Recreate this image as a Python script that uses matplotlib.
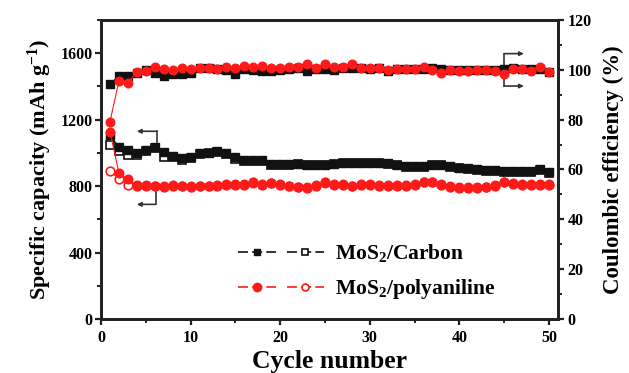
import matplotlib
matplotlib.use("Agg")
import matplotlib.pyplot as plt
from matplotlib.lines import Line2D
from matplotlib.legend_handler import HandlerTuple
from matplotlib.ticker import MultipleLocator

plt.rcParams['font.family'] = ['Liberation Serif', 'DejaVu Serif']
plt.rcParams['font.weight'] = 'bold'
plt.rcParams['mathtext.fontset'] = 'custom'
plt.rcParams['mathtext.rm'] = 'Liberation Serif:bold'
plt.rcParams['mathtext.default'] = 'rm'

cycles = list(range(1, 51))

carbon_discharge = [1107, 1036, 1017, 997, 1017, 1036, 1006, 982, 970, 976,
                    1000, 1000, 1012, 1000, 978, 956, 956, 955, 932, 932,
                    932, 936, 930, 930, 930, 936, 942, 942, 942, 942,
                    942, 940, 930, 922, 922, 922, 930, 930, 922, 910,
                    906, 900, 896, 896, 890, 890, 890, 890, 900, 882]
carbon_charge = [1047, 1012, 986, 990, 1010, 1030, 978, 975, 960, 970,
                 995, 998, 1008, 996, 964, 952, 952, 950, 930, 930,
                 930, 932, 928, 928, 928, 932, 938, 938, 938, 938,
                 938, 936, 928, 918, 918, 918, 926, 926, 918, 906,
                 902, 896, 892, 892, 886, 886, 886, 886, 896, 878]
carbon_ce = [94.3, 97.6, 97.6, 98.8, 99.9, 98.8, 97.5, 98.3, 98.3, 98.8,
             100.6, 100.6, 100.2, 99.9, 98.3, 100.4, 99.9, 99.5, 99.5, 99.9,
             100.2, 100.6, 99.5, 100.2, 100.3, 99.9, 100.6, 100.6, 100.6, 100.2,
             100.6, 99.4, 100.2, 100.2, 100.2, 100.2, 100.6, 100.2, 99.9, 99.9,
             99.9, 99.9, 99.9, 99.9, 100.2, 100.6, 100.2, 100.2, 100.2, 99.2]

pani_discharge = [1127, 880, 840, 806, 806, 802, 800, 806, 802, 800,
                  802, 802, 806, 810, 810, 810, 816, 810, 820, 810,
                  802, 796, 792, 806, 820, 812, 810, 802, 810, 810,
                  806, 806, 806, 806, 812, 826, 826, 812, 800, 792,
                  792, 792, 796, 806, 826, 816, 810, 810, 810, 810]
pani_charge = [892, 840, 806, 802, 802, 798, 796, 802, 798, 796,
               798, 798, 802, 806, 806, 806, 822, 806, 816, 806,
               798, 792, 788, 802, 826, 808, 806, 798, 806, 806,
               802, 802, 802, 802, 808, 822, 822, 808, 796, 788,
               788, 788, 792, 802, 822, 812, 806, 806, 806, 806]
pani_ce = [79.2, 95.5, 94.8, 99.2, 99.6, 101.2, 100.3, 99.9, 100.6, 100.2,
           100.6, 100.6, 100.2, 101.0, 100.9, 101.7, 101.3, 101.5, 100.6, 100.6,
           101.0, 101.3, 102.4, 100.6, 102.5, 101.3, 101.3, 102.5, 100.6, 100.6,
           100.6, 99.9, 100.2, 100.2, 100.2, 101.3, 99.9, 98.8, 99.9, 99.5,
           99.5, 99.9, 99.9, 99.5, 98.5, 100.2, 100.2, 99.5, 101.3, 99.2]

labels = ['MoS$_2$/Carbon', 'MoS$_2$/polyaniline']

RED = '#ff1a1a'
BLK = '#111111'

fig = plt.figure(figsize=(6.29, 3.73), dpi=100)
ax = fig.add_axes([0.1606, 0.1448, 0.7264, 0.8016])
ax2 = ax.twinx()

ms_sq = 5.4
ms_ci = 6.2
ax.plot(cycles, carbon_charge, color=BLK, lw=0.8, marker='s', ms=ms_sq,
        mfc='white', mec=BLK, mew=1.2, zorder=3)
ax.plot(cycles, carbon_discharge, color=BLK, lw=0.8, marker='s', ms=ms_sq,
        mfc=BLK, mec=BLK, zorder=4)
ax.plot(cycles, pani_charge, color=RED, lw=0.8, marker='o', ms=ms_ci,
        mfc='white', mec=RED, mew=1.2, zorder=3)
ax.plot(cycles, pani_discharge, color=RED, lw=0.8, marker='o', ms=ms_ci,
        mfc=RED, mec=RED, zorder=4)
ax2.plot(cycles, carbon_ce, color=BLK, lw=0.8, marker='s', ms=ms_sq,
         mfc=BLK, mec=BLK, zorder=4)
ax2.plot(cycles, pani_ce, color=RED, lw=0.8, marker='o', ms=ms_ci,
         mfc=RED, mec=RED, zorder=4)

ax.set_xlim(0, 51)
ax.set_ylim(0, 1800)
ax2.set_ylim(0, 120)
ax.set_xticks([0, 10, 20, 30, 40, 50])
ax.xaxis.set_minor_locator(MultipleLocator(5))
ax.set_yticks([0, 400, 800, 1200, 1600])
ax.yaxis.set_minor_locator(MultipleLocator(200))
ax2.set_yticks([0, 20, 40, 60, 80, 100, 120])
ax2.yaxis.set_minor_locator(MultipleLocator(10))

for a in (ax, ax2):
    for s in a.spines.values():
        s.set_linewidth(2.0)
        s.set_color('#222222')
    a.tick_params(which='major', direction='out', length=4, width=1.6,
                  labelsize=11.5, pad=2, color='#222222')
    a.tick_params(which='minor', direction='out', length=3, width=1.4,
                  color='#222222')
ax.tick_params(axis='x', pad=4)
ax2.tick_params(axis='y', pad=3)

ax.set_xlabel('Cycle number', fontsize=18.5, fontweight='bold', labelpad=3)
ax.set_ylabel('Specific capacity (mAh g$^{-1}$)', fontsize=16,
              fontweight='bold', labelpad=5)
ax2.set_ylabel('Coulombic efficiency (%)', fontsize=16.5, fontweight='bold',
               labelpad=8)

# bracket arrows indicating axis membership
arrow_kw = dict(arrowstyle='-|>', color='#333333', lw=1.2,
                mutation_scale=6, shrinkA=0, shrinkB=0)
ax.annotate('', xy=(4.0, 1130), xytext=(6.2, 1130), arrowprops=arrow_kw)
ax.plot([6.2, 6.2], [1130, 1065], color='#333333', lw=1.2)
ax.annotate('', xy=(4.0, 690), xytext=(6.1, 690), arrowprops=arrow_kw)
ax.plot([6.1, 6.1], [690, 770], color='#333333', lw=1.2)
ax2.plot([45, 45], [93.5, 106.5], color='#333333', lw=1.2)
ax2.annotate('', xy=(47.2, 106.5), xytext=(45, 106.5), arrowprops=arrow_kw)
ax2.annotate('', xy=(47.2, 93.5), xytext=(45, 93.5), arrowprops=arrow_kw)

ls_leg = (0, (6, 2.5))
h_c1 = Line2D([], [], color=BLK, lw=1.2, ls=ls_leg, marker='s', ms=5,
              mfc=BLK, mec=BLK)
h_c2 = Line2D([], [], color=BLK, lw=1.2, ls=ls_leg, marker='s', ms=5,
              mfc='white', mec=BLK, mew=1.2)
h_p1 = Line2D([], [], color=RED, lw=1.2, ls=ls_leg, marker='o', ms=6,
              mfc=RED, mec=RED)
h_p2 = Line2D([], [], color=RED, lw=1.2, ls=ls_leg, marker='o', ms=5,
              mfc='white', mec=RED, mew=1.2)
leg = ax.legend([(h_c1, h_c2), (h_p1, h_p2)], labels,
                handler_map={tuple: HandlerTuple(ndivide=None, pad=0.5)},
                loc='lower right', bbox_to_anchor=(0.905, -0.005),
                frameon=False, fontsize=15.5, handlelength=4.0,
                handletextpad=0.5, labelspacing=0.6)

fig.savefig('out.png', dpi=100)
